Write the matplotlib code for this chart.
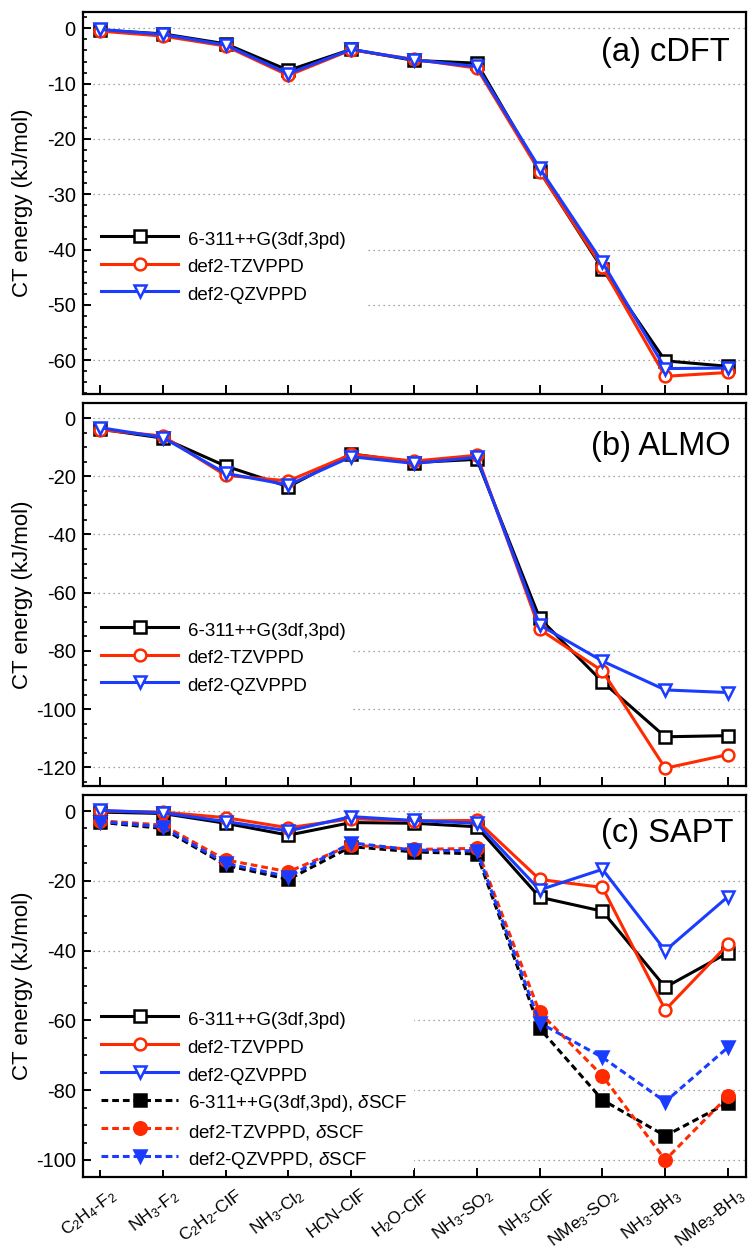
import matplotlib
matplotlib.use("Agg")
import matplotlib.pyplot as plt
import matplotlib.transforms as mtransforms
from matplotlib.patches import Rectangle
from matplotlib.ticker import MultipleLocator

plt.rcParams['font.family'] = ['Liberation Sans', 'DejaVu Sans']
plt.rcParams['mathtext.fontset'] = 'custom'
plt.rcParams['mathtext.rm'] = 'Liberation Sans'
plt.rcParams['mathtext.it'] = 'Liberation Sans:italic'
plt.rcParams['mathtext.bf'] = 'Liberation Sans:bold'
plt.rcParams['axes.unicode_minus'] = False

# Complexes on the x axis
complexes = [r'C$_2$H$_4$-F$_2$', r'NH$_3$-F$_2$', r'C$_2$H$_2$-ClF', r'NH$_3$-Cl$_2$',
             r'HCN-ClF', r'H$_2$O-ClF', r'NH$_3$-SO$_2$', r'NH$_3$-ClF',
             r'NMe$_3$-SO$_2$', r'NH$_3$-BH$_3$', r'NMe$_3$-BH$_3$']

basis_labels = ['6-311++G(3df,3pd)', 'def2-TZVPPD', 'def2-QZVPPD']

# (a) cDFT charge-transfer energies, kJ/mol
cdft_pople = [-0.3, -1.0, -2.8, -7.6, -3.8, -5.8, -6.3, -25.8, -43.5, -60.1, -61.1]
cdft_tz    = [-0.5, -1.4, -3.2, -8.5, -3.9, -5.6, -7.2, -25.9, -43.2, -62.9, -62.2]
cdft_qz    = [-0.2, -1.1, -3.0, -8.2, -3.8, -5.7, -6.9, -25.3, -42.3, -61.5, -61.4]

# (b) ALMO charge-transfer energies, kJ/mol
almo_pople = [-3.8, -6.9, -16.5, -23.6, -12.3, -15.3, -14.2, -68.8, -90.6, -109.5, -109.1]
almo_tz    = [-4.0, -6.2, -19.7, -21.6, -12.5, -14.8, -12.8, -72.6, -86.9, -120.3, -115.6]
almo_qz    = [-3.3, -6.7, -19.0, -23.0, -13.3, -15.6, -13.5, -71.1, -83.5, -93.4, -94.3]

# (c) SAPT charge-transfer energies, kJ/mol
sapt_pople = [-0.3, -0.7, -3.5, -6.9, -3.3, -3.5, -4.5, -24.7, -28.7, -50.5, -40.6]
sapt_tz    = [0.0, -0.3, -1.9, -4.8, -2.2, -2.8, -2.7, -19.6, -21.9, -57.0, -38.2]
sapt_qz    = [0.2, -0.5, -3.0, -5.7, -1.6, -2.7, -3.5, -22.6, -16.7, -40.0, -24.5]
sapt_pople_dscf = [-3.2, -5.0, -15.5, -19.6, -10.2, -11.7, -12.3, -62.3, -82.8, -93.1, -83.6]
sapt_tz_dscf    = [-2.8, -4.0, -14.0, -17.4, -9.7, -11.0, -10.7, -57.7, -75.9, -100.0, -81.7]
sapt_qz_dscf    = [-3.0, -4.5, -15.0, -18.8, -9.1, -11.2, -11.4, -60.7, -70.6, -83.3, -67.7]

BLACK = '#000000'
RED = '#ff2a00'
BLUE = '#1a3cff'
colors = [BLACK, RED, BLUE]
open_markers = ['s', 'o', 'v']

x = list(range(len(complexes)))

fig = plt.figure(figsize=(7.48, 12.53), dpi=100)
W, H = 748.0, 1253.0
left_px, right_px = 82.7, 746.3
panels_px = [(12.0, 394.3), (403.3, 786.0), (795.0, 1176.7)]
axes = []
for top, bot in panels_px:
    ax = fig.add_axes([left_px / W, 1 - bot / H, (right_px - left_px) / W, (bot - top) / H])
    axes.append(ax)

LW = 2.2
MS = 8.5


def style_axis(ax, ylim, major, minor):
    ax.set_xlim(-0.275, 10.29)
    ax.set_ylim(*ylim)
    ax.yaxis.set_major_locator(MultipleLocator(major))
    ax.yaxis.set_minor_locator(MultipleLocator(minor))
    ax.set_xticks(x)
    for sp in ax.spines.values():
        sp.set_linewidth(1.6)
    ax.tick_params(axis='y', which='major', direction='in', length=6, width=1.4,
                   labelsize=14.5, pad=5, right=False)
    ax.tick_params(axis='y', which='minor', direction='in', length=3.2, width=1.2, right=False)
    ax.tick_params(axis='x', which='major', direction='in', length=6.5, width=1.4,
                   top=False, labelsize=12.5, pad=4)
    ax.tick_params(axis='x', which='minor', bottom=False, top=False)
    ax.grid(True, axis='y', which='major', color='#888888', linestyle=(0, (1, 3)),
            linewidth=0.9, zorder=0)
    ax.set_axisbelow(True)


def add_legend(ax, yfrac, mask):
    # white patch hiding the grid behind the legend, leaving the spine and ticks visible
    x0, y0, x1, y1 = mask
    ax.add_patch(Rectangle((x0, y0), x1 - x0, y1 - y0, transform=ax.transAxes,
                           facecolor='white', edgecolor='none', zorder=1))
    leg = ax.legend(loc='center left', bbox_to_anchor=(0.0, yfrac), borderaxespad=0.0,
                    borderpad=1.0, frameon=False, fontsize=13.5,
                    handlelength=4.1, handleheight=1.45, handletextpad=0.5,
                    labelspacing=0.29)
    leg.set_zorder(5)
    return leg


def plot_set(ax, series, dashed=False, filled=False):
    for vals, col, mk, lab in zip(series, colors, open_markers, basis_labels):
        kw = dict(color=col, lw=LW, marker=mk, ms=MS, mec=col, mew=1.8,
                  mfc=col if filled else 'white', zorder=3)
        if dashed:
            kw['ms'] = MS + 0.5
            line, = ax.plot(x, vals, linestyle='--', label=lab + r', $\delta$SCF', **kw)
            line.set_dashes((2.2, 1.3))
        else:
            ax.plot(x, vals, linestyle='-', label=lab, **kw)


# (a) cDFT
ax = axes[0]
plot_set(ax, [cdft_pople, cdft_tz, cdft_qz])
style_axis(ax, (-66.15, 2.95), 10, 2)
add_legend(ax, 0.335, (0.014, 0.20, 0.43, 0.469))
ax.text(0.9755, 0.893, '(a) cDFT', transform=ax.transAxes, ha='right', va='center', fontsize=23.5)

# (b) ALMO
ax = axes[1]
plot_set(ax, [almo_pople, almo_tz, almo_qz])
style_axis(ax, (-126.4, 5.05), 20, 5)
add_legend(ax, 0.337, (0.014, 0.1725, 0.407, 0.473))
ax.text(0.9755, 0.887, '(b) ALMO', transform=ax.transAxes, ha='right', va='center', fontsize=23.5)

# (c) SAPT, with and without the delta-SCF correction
ax = axes[2]
plot_set(ax, [sapt_pople, sapt_tz, sapt_qz])
plot_set(ax, [sapt_pople_dscf, sapt_tz_dscf, sapt_qz_dscf], dashed=True, filled=True)
style_axis(ax, (-104.8, 4.6), 20, 5)
add_legend(ax, 0.229, (0.014, 0.0176, 0.50, 0.489))
ax.text(0.9800, 0.898, '(c) SAPT', transform=ax.transAxes, ha='right', va='center', fontsize=23.5)

for ax in axes[:2]:
    ax.tick_params(axis='x', labelbottom=False)

ax = axes[2]
ax.set_xticklabels(complexes, rotation=37, ha='right', va='top', rotation_mode='anchor')
shift = mtransforms.ScaledTranslation(9 / 100.0, -4 / 100.0, fig.dpi_scale_trans)
for lab in ax.get_xticklabels():
    lab.set_transform(lab.get_transform() + shift)

for (top, bot) in panels_px:
    fig.text(23 / W, 1 - 0.5 * (top + bot) / H, 'CT energy (kJ/mol)', rotation=90,
             ha='center', va='center', fontsize=16)

fig.savefig('out.png', dpi=100)
